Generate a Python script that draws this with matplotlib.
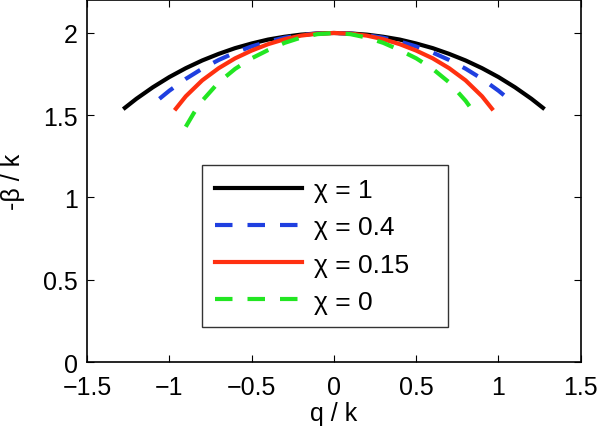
import matplotlib
matplotlib.use("Agg")
import matplotlib.pyplot as plt

# values
q_chi1 = [-1.27, -1.2, -1.1, -1.0, -0.9, -0.8, -0.7, -0.6, -0.5, -0.4, -0.3, -0.2, -0.1, 0.0,
          0.1, 0.2, 0.3, 0.4, 0.5, 0.6, 0.7, 0.8, 0.9, 1.0, 1.1, 1.2, 1.27]
b_chi1 = [1.545, 1.600, 1.670, 1.732, 1.786, 1.833, 1.873, 1.908, 1.936, 1.960, 1.977, 1.990, 1.997, 2.0,
          1.997, 1.990, 1.977, 1.960, 1.936, 1.908, 1.873, 1.833, 1.786, 1.732, 1.670, 1.600, 1.545]

q_chi04 = [-1.06, -1.0, -0.9, -0.8, -0.7, -0.6, -0.5, -0.4, -0.3, -0.2, -0.1, 0.0,
           0.1, 0.2, 0.3, 0.4, 0.5, 0.6, 0.7, 0.8, 0.9, 1.0, 1.06]
b_chi04 = [1.600, 1.649, 1.721, 1.783, 1.836, 1.881, 1.918, 1.948, 1.971, 1.987, 1.997, 2.0,
           1.997, 1.987, 1.971, 1.948, 1.918, 1.881, 1.836, 1.783, 1.721, 1.649, 1.600]

q_chi015 = [-0.96, -0.9, -0.8, -0.7, -0.6, -0.5, -0.4, -0.3, -0.2, -0.1, 0.0,
            0.1, 0.2, 0.3, 0.4, 0.5, 0.6, 0.7, 0.8, 0.9, 0.96]
b_chi015 = [1.540, 1.615, 1.712, 1.786, 1.846, 1.893, 1.932, 1.962, 1.984, 1.996, 2.0,
            1.996, 1.984, 1.962, 1.932, 1.893, 1.846, 1.786, 1.712, 1.615, 1.540]

q_chi0 = [-0.90, -0.85, -0.8, -0.7, -0.6, -0.5, -0.4, -0.3, -0.2, -0.1, 0.0,
          0.1, 0.2, 0.3, 0.4, 0.5, 0.6, 0.7, 0.8, 0.87]
b_chi0 = [1.430, 1.515, 1.588, 1.700, 1.782, 1.846, 1.896, 1.940, 1.972, 1.993, 2.0,
          1.993, 1.972, 1.940, 1.896, 1.846, 1.782, 1.700, 1.588, 1.490]

plt.rcParams['font.family'] = ['Liberation Sans', 'DejaVu Sans']

fig = plt.figure(figsize=(6, 4.35), dpi=100)
ax = fig.add_axes([0.145, 0.1655, 0.823, 0.832])

dash = (0, (4.2, 3.6))
ax.plot(q_chi1, b_chi1, color='black', lw=3, label='χ = 1')
ax.plot(q_chi04, b_chi04, color='#1f3fe0', lw=3, ls=dash, label='χ = 0.4')
ax.plot(q_chi015, b_chi015, color='#ff3010', lw=3, label='χ = 0.15')
ax.plot(q_chi0, b_chi0, color='#22e622', lw=3, ls=dash, label='χ = 0')

ax.set_xlim(-1.5, 1.5)
ax.set_ylim(0, 2.2)
ax.set_xticks([-1.5, -1, -0.5, 0, 0.5, 1, 1.5])
ax.set_xticklabels(['\u22121.5', '\u22121', '\u22120.5', '0', '0.5', '1', '1.5'])
ax.set_yticks([0, 0.5, 1, 1.5, 2])
ax.set_yticklabels(['0', '0.5', '1', '1.5', '2'])
ax.tick_params(direction='in', top=True, right=True, labelsize=18, length=5, width=0.8)
ax.tick_params(axis='x', pad=9)
ax.tick_params(axis='y', pad=6.5)
for s in ax.spines.values():
    s.set_linewidth(1.2)

ax.set_xlabel('q / k', fontsize=18, labelpad=2)
ax.set_ylabel('-β / k', fontsize=18, labelpad=13)

leg = ax.legend(loc='lower left', bbox_to_anchor=(0.233, 0.097, 0.498, 0.458), mode='expand',
                fontsize=19, handlelength=3.3, handletextpad=0.45, frameon=True, fancybox=False,
                borderaxespad=0, labelspacing=0.5, borderpad=0.5)
leg.get_frame().set_edgecolor('black')
leg.get_frame().set_linewidth(1.0)

fig.savefig('out.png', dpi=100)
